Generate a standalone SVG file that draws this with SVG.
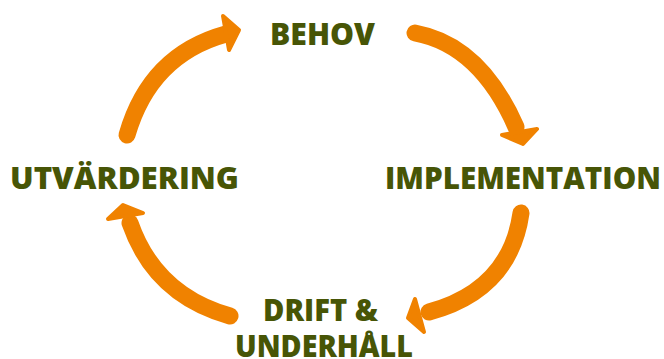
<svg xmlns="http://www.w3.org/2000/svg" width="664" height="359" viewBox="0 0 664 359">
  <style>
    .label { font-family: "Open Sans", "Noto Sans", "Liberation Sans", sans-serif; font-weight: 800; font-size: 30px; fill: #475506; }
    .shaft { fill: none; stroke: #f08200; stroke-width: 17; stroke-linecap: round; }
    .head { fill: #f08200; stroke: #f08200; stroke-width: 4; stroke-linejoin: round; }
  </style>
  <rect width="664" height="359" fill="#ffffff"/>

  <!-- cycle arrows -->
  <g id="connectors">
    <g id="arrow-utvardering-behov">
      <path class="shaft" d="M127,135 Q150,55 226,34"/>
      <polygon class="head" points="223,16 239,30 229,50"/>
    </g>
    <g id="arrow-behov-implementation">
      <path class="shaft" d="M415,33 Q480,45 516,127"/>
      <polygon class="head" points="502,135 523,144 537,129"/>
    </g>
    <g id="arrow-implementation-drift">
      <path class="shaft" d="M521,213 Q510,290 429,312"/>
      <polygon class="head" points="415,299 408,318 424,332"/>
    </g>
    <g id="arrow-drift-utvardering">
      <path class="shaft" d="M230,316 Q155,295 130,223"/>
      <polygon class="head" points="108,219 123,205 143,213"/>
    </g>
  </g>

  <!-- stage labels -->
  <g id="behov">
    <text class="label" x="270" y="45" textLength="105" lengthAdjust="spacingAndGlyphs">BEHOV</text>
  </g>
  <g id="implementation">
    <text class="label" x="385" y="189" textLength="276" lengthAdjust="spacingAndGlyphs">IMPLEMENTATION</text>
  </g>
  <g id="drift-underhall">
    <text class="label" x="263" y="321" textLength="115" lengthAdjust="spacingAndGlyphs">DRIFT &amp;</text>
    <text class="label" x="235" y="357" textLength="178" lengthAdjust="spacingAndGlyphs">UNDERHÅLL</text>
  </g>
  <g id="utvardering">
    <text class="label" x="10" y="189" textLength="229" lengthAdjust="spacingAndGlyphs">UTVÄRDERING</text>
  </g>
</svg>
